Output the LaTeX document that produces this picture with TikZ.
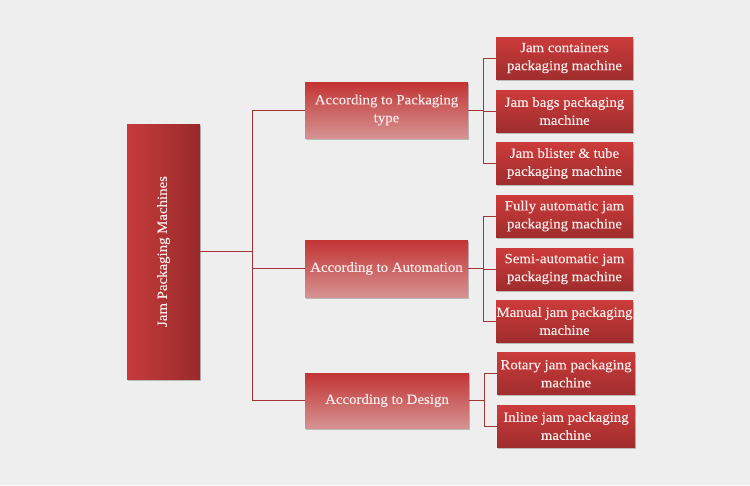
\documentclass[tikz,border=0pt]{standalone}
\usepackage{fontspec}
\setmainfont{Liberation Serif}[FakeStretch=1.06,FakeBold=0.25]
\usetikzlibrary{shadows}
\definecolor{bg}{HTML}{EEEEEE}
\definecolor{linec}{HTML}{A33535}
\definecolor{txt}{HTML}{FBECEC}
\definecolor{rootL}{HTML}{C63B3B}
\definecolor{rootR}{HTML}{992A2A}
\definecolor{midT}{HTML}{C23434}
\definecolor{midB}{HTML}{D69292}
\definecolor{leafT}{HTML}{CC3B3B}
\definecolor{leafB}{HTML}{A02D2D}
\tikzset{
  boxshadow/.style={drop shadow={shadow xshift=1pt,shadow yshift=-1.5pt,fill=black,opacity=0.22}},
  rootbox/.style={rectangle,draw=none,left color=rootL,right color=rootR,boxshadow,minimum width=73pt,minimum height=255pt,inner sep=0pt},
  midbox/.style={rectangle,draw=none,top color=midT,bottom color=midB,boxshadow,minimum width=163pt,minimum height=56pt,inner sep=1pt,align=center,text=txt,font=\fontsize{14}{18}\selectfont},
  leafbox/.style={rectangle,draw=none,top color=leafT,bottom color=leafB,boxshadow,minimum width=137pt,minimum height=42pt,inner xsep=0pt,inner ysep=1pt,align=center,text=txt,font=\fontsize{14}{18}\selectfont},
  conn/.style={draw=linec,line width=0.9pt}
}
\begin{document}
\begin{tikzpicture}[x=1pt,y=-1pt]
\fill[bg] (0,0) rectangle (750,485);
\useasboundingbox (0,0) rectangle (750,485);
\node[rootbox] (root) at (163.5,251.5) {};
\node[rotate=90,text=txt,font=\fontsize{14}{18}\selectfont] (rootlabel) at (root.center) {Jam Packaging Machines};
\node[midbox] (m1) at (386.5,110) {According to Packaging\\type};
\node[midbox,minimum height=57pt] (m2) at (386.5,268.5) {According to Automation};
\node[midbox,minimum width=164pt,minimum height=55pt] (m3) at (387,400.5) {According to Design};
\node[leafbox] (l1) at (564.5,58) {Jam containers\\packaging machine};
\node[leafbox] (l2) at (564.5,111) {Jam bags packaging\\machine};
\node[leafbox] (l3) at (564.5,163.5) {Jam blister \& tube\\packaging machine};
\node[leafbox] (l4) at (564.5,216) {Fully automatic jam\\packaging machine};
\node[leafbox] (l5) at (564.5,269) {Semi-automatic jam\\packaging machine};
\node[leafbox] (l6) at (564.5,321) {Manual jam packaging\\machine};
\node[leafbox,minimum width=138pt] (l7) at (566,373.5) {Rotary jam packaging\\machine};
\node[leafbox,minimum width=138pt] (l8) at (566,426) {Inline jam packaging\\machine};
\coordinate (bus) at (252,251.5);
\coordinate (b1) at (483,110);
\coordinate (b2) at (483,268.5);
\coordinate (b3) at (484,400.5);
\draw[conn] (root.east) -- (bus);
\draw[conn] (bus) |- (m1.west);
\draw[conn] (bus) |- (m2.west);
\draw[conn] (bus) |- (m3.west);
\draw[conn] (m1.east) -- (b1);
\draw[conn] (b1) |- (l1.west);
\draw[conn] (b1) |- (l2.west);
\draw[conn] (b1) |- (l3.west);
\draw[conn] (m2.east) -- (b2);
\draw[conn] (b2) |- (l4.west);
\draw[conn] (b2) |- (l5.west);
\draw[conn] (b2) |- (l6.west);
\draw[conn] (m3.east) -- (b3);
\draw[conn] (b3) |- (l7.west);
\draw[conn] (b3) |- (l8.west);
\end{tikzpicture}
\end{document}
